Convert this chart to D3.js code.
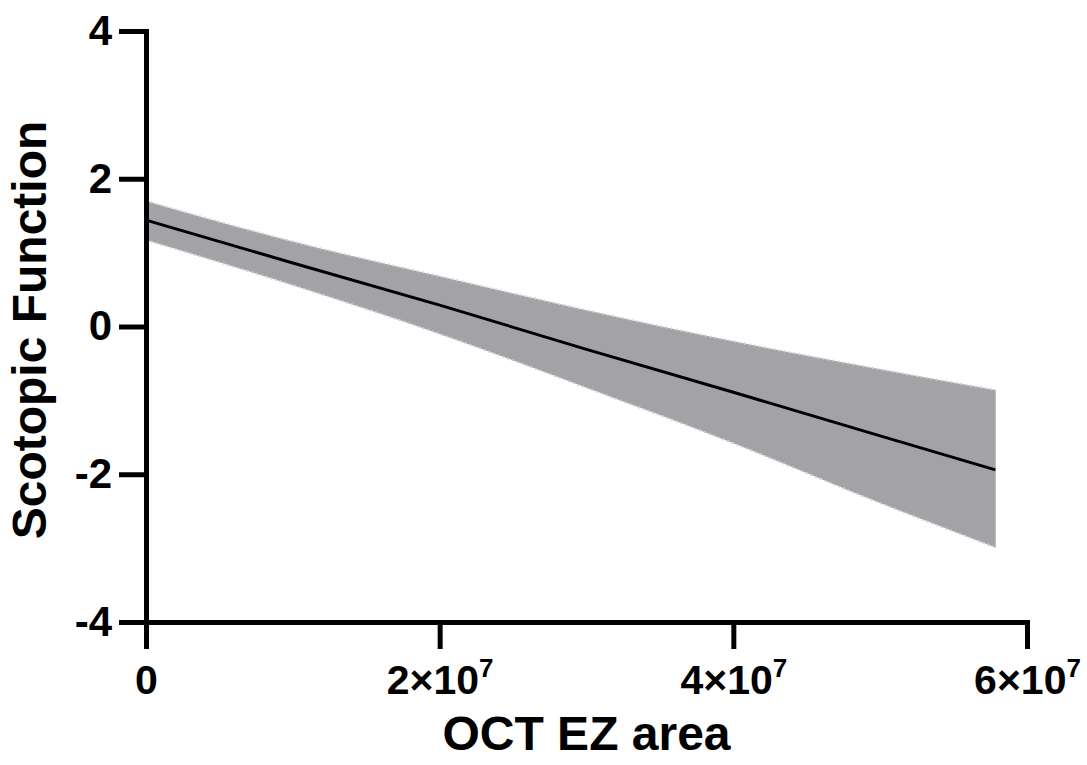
<!DOCTYPE html>
<html>
<head>
<meta charset="utf-8">
<script src="https://cdn.jsdelivr.net/npm/d3@7"></script>
<style>
  html, body { margin: 0; padding: 0; background: #fff; }
  svg { display: block; }
</style>
</head>
<body>
<svg id="chart" width="1087" height="765"></svg>
<script>
// ---- data ----
const xValues   = [0, 1e7, 2e7, 3e7, 4e7, 5e7, 5.785e7];
const fitValues = [1.44, 0.86, 0.29, -0.31, -0.89, -1.48, -1.94];
const upperCI   = [1.70, 1.15, 0.68, 0.22, -0.20, -0.58, -0.86];
const lowerCI   = [1.17, 0.56, -0.10, -0.83, -1.58, -2.39, -2.99];
const xTicks    = [0, 2e7, 4e7, 6e7];
const xTickMant = ["0", "2×10", "4×10", "6×10"];
const xTickExp  = ["", "7", "7", "7"];
const yTicks    = [-4, -2, 0, 2, 4];
const xTitle    = "OCT EZ area";
const yTitle    = "Scotopic Function";

const svg = d3.select("#chart");
const mLeft = 146, mRight = 1027, mTop = 31, mBottom = 622;

const x = d3.scaleLinear().domain([0, 6e7]).range([mLeft, mRight]);
const y = d3.scaleLinear().domain([-4, 4]).range([mBottom, mTop]);

const pts = xValues.map((v, i) => ({x: v, f: fitValues[i], u: upperCI[i], l: lowerCI[i]}));

// confidence band
svg.append("path")
  .datum(pts)
  .attr("d", d3.area().curve(d3.curveMonotoneX).x(d => x(d.x)).y0(d => y(d.l)).y1(d => y(d.u)))
  .attr("fill", "#a3a3a7");
["u", "l"].forEach(k => {
  svg.append("path")
    .datum(pts)
    .attr("d", d3.line().curve(d3.curveMonotoneX).x(d => x(d.x)).y(d => y(d[k])))
    .attr("fill", "none")
    .attr("stroke", "#d0d0d0")
    .attr("stroke-width", 2)
    .attr("stroke-dasharray", "2,3");
});
// right edge
svg.append("line")
  .attr("x1", x(xValues[xValues.length-1])).attr("x2", x(xValues[xValues.length-1]))
  .attr("y1", y(upperCI[upperCI.length-1])).attr("y2", y(lowerCI[lowerCI.length-1]))
  .attr("stroke", "#bdbdbd").attr("stroke-width", 1);

// regression line
svg.append("path")
  .datum(pts)
  .attr("d", d3.line().x(d => x(d.x)).y(d => y(d.f)))
  .attr("fill", "none")
  .attr("stroke", "#000")
  .attr("stroke-width", 3);

const font = "'Liberation Sans', Arial, sans-serif";

// y axis
const gy = svg.append("g").attr("transform", `translate(${mLeft},0)`)
  .call(d3.axisLeft(y).tickValues(yTicks).tickSize(27).tickSizeOuter(0).tickPadding(7).tickFormat(d3.format("d")));
// x axis
const gx = svg.append("g").attr("transform", `translate(0,${mBottom})`)
  .call(d3.axisBottom(x).tickValues(xTicks).tickSize(27).tickSizeOuter(0).tickPadding(16).tickFormat(""));

[gx, gy].forEach(g => {
  g.select(".domain").attr("stroke", "#000").attr("stroke-width", 5).attr("stroke-linecap", "square");
  g.selectAll(".tick line").attr("stroke", "#000").attr("stroke-width", 5);
});
gy.selectAll(".tick text")
  .attr("font-family", font).attr("font-weight", "bold").attr("font-size", 42).attr("fill", "#000")
  .text(d => d < 0 ? "-" + Math.abs(d) : d);

// x tick labels with superscript
gx.selectAll(".tick").each(function(d, i) {
  const t = d3.select(this).select("text")
    .attr("font-family", font).attr("font-weight", "bold").attr("font-size", 41).attr("fill", "#000")
    .attr("dy", "0.71em").attr("text-anchor", "middle");
  t.text(null);
  t.append("tspan").text(xTickMant[i]);
  if (xTickExp[i]) t.append("tspan").attr("font-size", 26).attr("dy", -17).text(xTickExp[i]);
});

// titles
svg.append("text")
  .attr("x", (mLeft + mRight) / 2).attr("y", 750)
  .attr("text-anchor", "middle")
  .attr("font-family", font).attr("font-weight", "bold").attr("font-size", 48)
  .text(xTitle);
svg.append("text")
  .attr("transform", `translate(46,330) rotate(-90)`)
  .attr("text-anchor", "middle")
  .attr("font-family", font).attr("font-weight", "bold").attr("font-size", 48)
  .text(yTitle);
</script>
</body>
</html>
